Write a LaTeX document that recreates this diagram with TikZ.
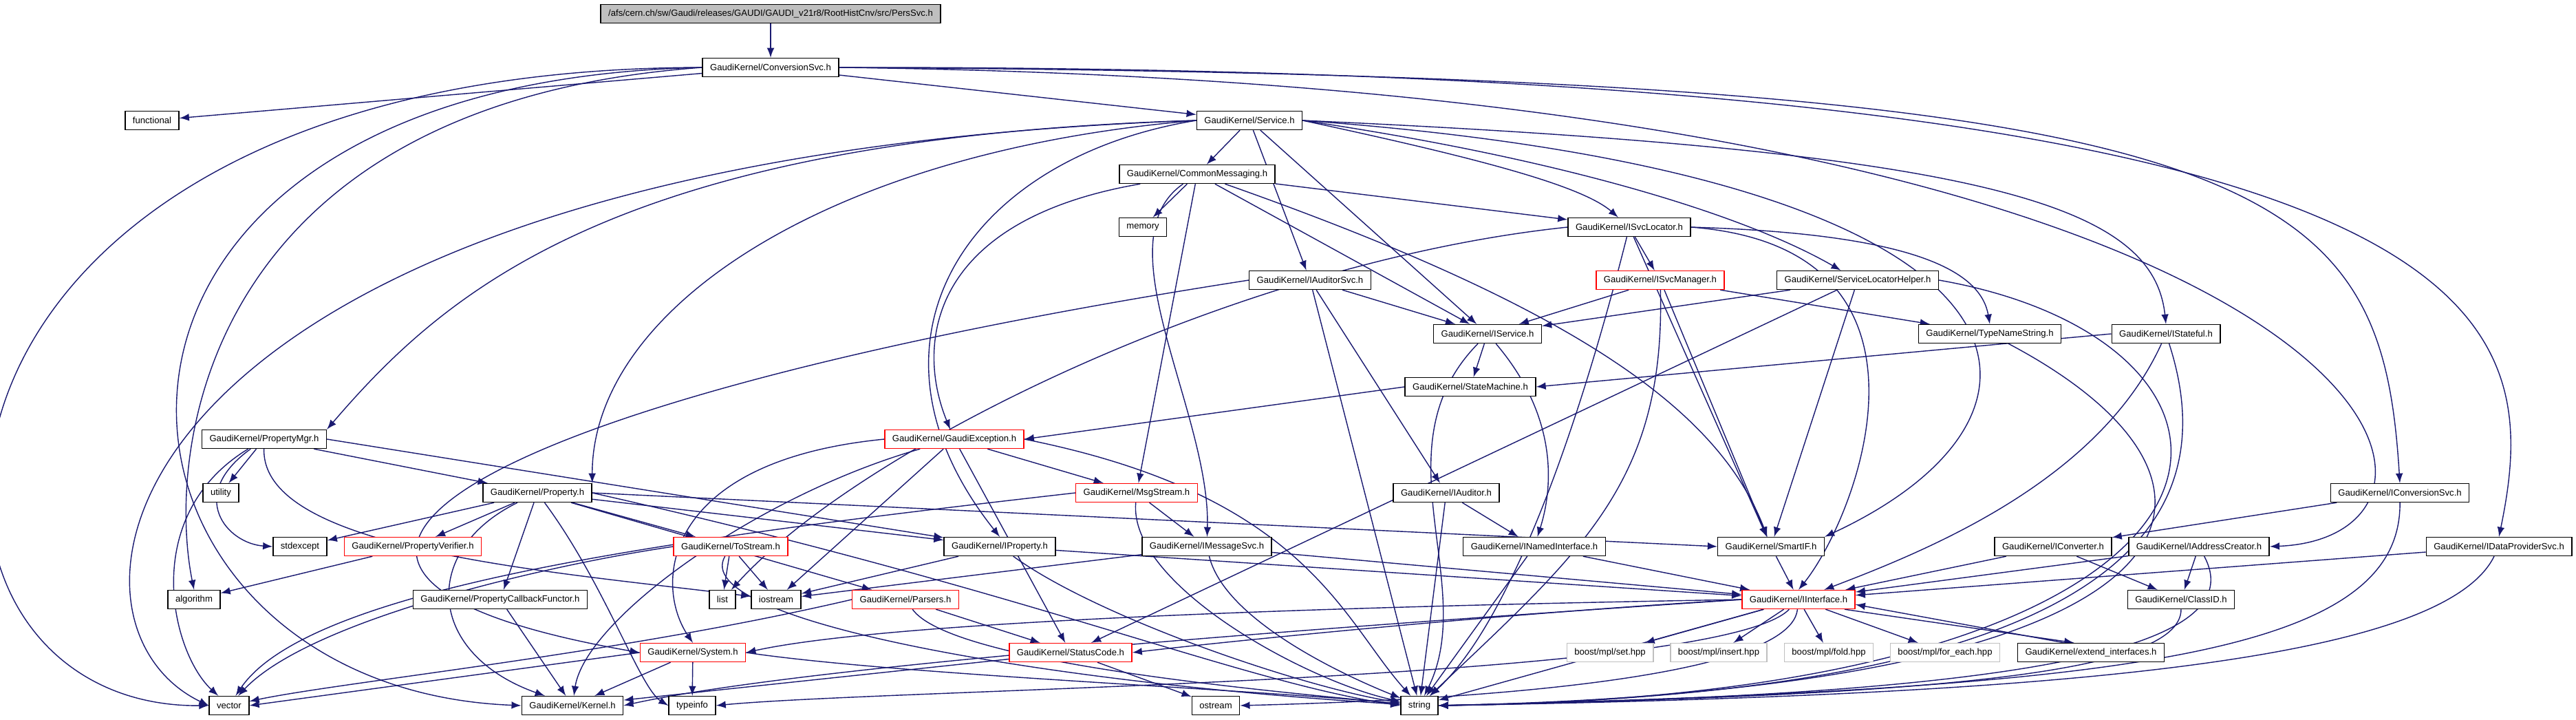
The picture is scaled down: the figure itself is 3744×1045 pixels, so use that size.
\documentclass[tikz,border=0pt]{standalone}
\usepackage{fontspec}
\setmainfont{Liberation Sans}
\usetikzlibrary{backgrounds}
\definecolor{edgeblue}{HTML}{191970}
\definecolor{rootgray}{HTML}{BFBFBF}

\begin{document}
\begin{tikzpicture}[x=0.01cm, y=-0.01cm, every node/.style={font={\fontsize{3.73pt}{4.5pt}\selectfont}}]
  \tikzstyle{hfile}=[draw,fill=white,minimum height=0.27cm,inner xsep=0.11cm,inner ysep=0pt]
  \tikzstyle{redfile}=[hfile,draw=red]
  \tikzstyle{extfile}=[hfile,draw=rootgray]
  \tikzstyle{dep}=[->,>=latex,draw=edgeblue]
  \useasboundingbox (0,0) rectangle (3744,1045);
  % headers, row by row
  \node[hfile,fill=rootgray] (root) at (1120,20) {/afs/cern.ch/sw/Gaudi/releases/GAUDI/GAUDI\_v21r8/RootHistCnv/src/PersSvc.h};
  \node[hfile] (convsvc) at (1120,98) {GaudiKernel/ConversionSvc.h};
  \node[hfile] (functional) at (221,175) {functional};
  \node[hfile] (service) at (1816,175) {GaudiKernel/Service.h};
  \node[hfile] (commonmsg) at (1740,253) {GaudiKernel/CommonMessaging.h};
  \node[hfile] (memory) at (1661,330) {memory};
  \node[hfile] (isvclocator) at (2368,330) {GaudiKernel/ISvcLocator.h};
  \node[hfile] (iauditorsvc) at (1904,407) {GaudiKernel/IAuditorSvc.h};
  \node[redfile] (isvcmanager) at (2413,407) {GaudiKernel/ISvcManager.h};
  \node[hfile] (svclochelper) at (2700,407) {GaudiKernel/ServiceLocatorHelper.h};
  \node[hfile] (iservice) at (2162,485) {GaudiKernel/IService.h};
  \node[hfile] (typename) at (2892,485) {GaudiKernel/TypeNameString.h};
  \node[hfile] (istateful) at (3148,485) {GaudiKernel/IStateful.h};
  \node[hfile] (statemachine) at (2137,562) {GaudiKernel/StateMachine.h};
  \node[hfile] (propmgr) at (384,638) {GaudiKernel/PropertyMgr.h};
  \node[redfile] (gaudiexc) at (1387,638) {GaudiKernel/GaudiException.h};
  \node[hfile] (utility) at (321,716) {utility};
  \node[hfile] (property) at (781,716) {GaudiKernel/Property.h};
  \node[redfile] (msgstream) at (1652,716) {GaudiKernel/MsgStream.h};
  \node[hfile] (iauditor) at (2102,716) {GaudiKernel/IAuditor.h};
  \node[hfile] (iconvsvc) at (3488,716) {GaudiKernel/IConversionSvc.h};
  \node[hfile] (stdexcept) at (436,794) {stdexcept};
  \node[redfile] (propverifier) at (600,794) {GaudiKernel/PropertyVerifier.h};
  \node[redfile] (tostream) at (1062,794) {GaudiKernel/ToStream.h};
  \node[hfile] (iproperty) at (1453,794) {GaudiKernel/IProperty.h};
  \node[hfile] (imsgsvc) at (1754,794) {GaudiKernel/IMessageSvc.h};
  \node[hfile] (inamed) at (2230,794) {GaudiKernel/INamedInterface.h};
  \node[hfile] (smartif) at (2574,794) {GaudiKernel/SmartIF.h};
  \node[hfile] (iconverter) at (2984,794) {GaudiKernel/IConverter.h};
  \node[hfile] (iaddrcreator) at (3196,794) {GaudiKernel/IAddressCreator.h};
  \node[hfile] (idataprov) at (3632,794) {GaudiKernel/IDataProviderSvc.h};
  \node[hfile] (algorithm) at (282,871) {algorithm};
  \node[hfile] (propcallback) at (727,871) {GaudiKernel/PropertyCallbackFunctor.h};
  \node[hfile] (list) at (1050,871) {list};
  \node[hfile] (iostream) at (1128,871) {iostream};
  \node[redfile] (parsers) at (1316,871) {GaudiKernel/Parsers.h};
  \node[redfile] (iinterface) at (2614,871) {GaudiKernel/IInterface.h};
  \node[hfile] (classid) at (3170,871) {GaudiKernel/ClassID.h};
  \node[redfile] (system) at (1007,948) {GaudiKernel/System.h};
  \node[redfile] (statuscode) at (1556,948) {GaudiKernel/StatusCode.h};
  \node[extfile] (mplset) at (2340,948) {boost/mpl/set.hpp};
  \node[extfile] (mplinsert) at (2498,948) {boost/mpl/insert.hpp};
  \node[extfile] (mplfold) at (2658,948) {boost/mpl/fold.hpp};
  \node[extfile] (mplforeach) at (2827,948) {boost/mpl/for\_each.hpp};
  \node[hfile] (extend) at (3039,948) {GaudiKernel/extend\_interfaces.h};
  \node[hfile] (vector) at (333,1025) {vector};
  \node[hfile] (kernel) at (832,1025) {GaudiKernel/Kernel.h};
  \node[hfile] (typeinfo) at (1006,1025) {typeinfo};
  \node[hfile] (ostream) at (1767,1025) {ostream};
  \node[hfile] (string) at (2063,1025) {string};

  \begin{scope}[on background layer]
  % PersSvc.h, ConversionSvc.h
  \draw[dep] (root) -- (convsvc);
  \draw[dep] (convsvc) -- (functional); \draw[dep] (convsvc) -- (service);
  \draw[dep] (convsvc.west) .. controls (-200,100) and (-200,1030) .. (vector.west);
  \draw[dep] (convsvc.west) .. controls (300,150) and (240,650) .. (algorithm.north);
  \draw[dep] (convsvc.west) .. controls (0,120) and (100,1000) .. (kernel.west);
  \draw[dep] (convsvc.east) .. controls (3300,110) and (3460,250) .. (iconvsvc.north);
  \draw[dep] (convsvc.east) .. controls (3500,125) and (3660,780) .. (iaddrcreator.east);
  \draw[dep] (convsvc.east) .. controls (3650,95) and (3700,450) .. (idataprov.north);
  % Service.h
  \draw[dep] (service) -- (commonmsg); \draw[dep] (service) -- (iauditorsvc);
  \draw[dep] (service) -- (iservice);
  \draw[dep] (service.east) .. controls (2150,230) and (2300,270) .. (isvclocator);
  \draw[dep] (service.east) .. controls (2300,235) and (2550,320) .. (svclochelper);
  \draw[dep] (service.east) .. controls (2900,220) and (3130,300) .. (istateful.north);
  \draw[dep] (service.east) .. controls (3000,255) and (3040,600) .. (smartif.north east);
  \draw[dep] (service.west) .. controls (900,200) and (650,420) .. (propmgr.north east);
  \draw[dep] (service.west) .. controls (1200,220) and (860,450) .. (property.north east);
  \draw[dep] (service.west) .. controls (1400,230) and (1230,500) .. (iproperty.north);
  \draw[dep] (service.west) .. controls (150,230) and (40,900) .. (vector.west);
  % CommonMessaging.h
  \draw[dep] (commonmsg) -- (memory); \draw[dep] (commonmsg) -- (isvclocator);
  \draw[dep] (commonmsg) -- (iservice); \draw[dep] (commonmsg) -- (msgstream);
  \draw[dep] (commonmsg) .. controls (1600,350) and (1760,600) .. (imsgsvc);
  \draw[dep] (commonmsg) .. controls (1350,320) and (1330,500) .. (gaudiexc);
  \draw[dep] (commonmsg) .. controls (2300,450) and (2500,600) .. (smartif);
  % ISvcLocator.h
  \draw[dep] (isvclocator) -- (isvcmanager); \draw[dep] (isvclocator) -- (smartif);
  \draw[dep] (isvclocator.east) .. controls (2800,340) and (2880,400) .. (typename.north);
  \draw[dep] (isvclocator.east) .. controls (2850,360) and (2700,750) .. (iinterface.north);
  \draw[dep] (isvclocator) .. controls (2300,600) and (2200,900) .. (string);
  \draw[dep] (isvclocator.west) .. controls (1800,380) and (1250,650) .. (list);
  % ISvcManager.h
  \draw[dep] (isvcmanager) -- (iservice); \draw[dep] (isvcmanager) -- (typename);
  \draw[dep] (isvcmanager) -- (smartif);
  \draw[dep] (isvcmanager) .. controls (2420,700) and (2300,800) .. (string);
  % ServiceLocatorHelper.h
  \draw[dep] (svclochelper) -- (iservice); \draw[dep] (svclochelper) -- (statuscode);
  \draw[dep] (svclochelper) -- (smartif);
  \draw[dep] (svclochelper.east) .. controls (3350,500) and (3350,1010) .. (string.east);
  % IAuditorSvc.h
  \draw[dep] (iauditorsvc) -- (iservice); \draw[dep] (iauditorsvc) -- (iauditor);
  \draw[dep] (iauditorsvc) -- (string);
  \draw[dep] (iauditorsvc.west) .. controls (700,580) and (250,830) .. (system.west);
  % IService.h, IStateful.h, StateMachine.h
  \draw[dep] (iservice) -- (statemachine);
  \draw[dep] (iservice) .. controls (2260,600) and (2260,700) .. (inamed);
  \draw[dep] (iservice) .. controls (2000,650) and (2150,850) .. (string);
  \draw[dep] (istateful.west) -- (statemachine.east);
  \draw[dep] (istateful) .. controls (3050,700) and (2800,800) .. (iinterface);
  \draw[dep] (istateful) .. controls (3250,800) and (3000,1010) .. (string.east);
  \draw[dep] (statemachine.west) -- (gaudiexc.east);
  % PropertyMgr.h
  \draw[dep] (propmgr) -- (utility); \draw[dep] (propmgr) -- (property);
  \draw[dep] (propmgr.east) -- (iproperty);
  \draw[dep] (propmgr) .. controls (270,720) and (330,790) .. (stdexcept.west);
  \draw[dep] (propmgr) .. controls (200,750) and (250,950) .. (vector);
  \draw[dep] (propmgr) .. controls (380,800) and (800,830) .. (iostream);
  % GaudiException.h
  \draw[dep] (gaudiexc) -- (msgstream); \draw[dep] (gaudiexc) -- (statuscode);
  \draw[dep] (gaudiexc) -- (iostream);
  \draw[dep] (gaudiexc.west) .. controls (960,670) and (950,850) .. (system.north);
  \draw[dep] (gaudiexc) .. controls (1100,720) and (850,900) .. (kernel);
  \draw[dep] (gaudiexc.east) .. controls (1900,720) and (1950,900) .. (string);
  % Property.h
  \draw[dep] (property) -- (stdexcept); \draw[dep] (property) -- (propverifier);
  \draw[dep] (property) -- (propcallback); \draw[dep] (property) -- (tostream);
  \draw[dep] (property) -- (iproperty); \draw[dep] (property) -- (parsers);
  \draw[dep] (property.east) -- (smartif.west);
  \draw[dep] (property) .. controls (610,800) and (620,950) .. (kernel);
  \draw[dep] (property) .. controls (880,850) and (930,1000) .. (typeinfo.west);
  \draw[dep] (property.east) .. controls (1500,860) and (1800,990) .. (string.west);
  % MsgStream.h, ToStream.h
  \draw[dep] (msgstream) -- (imsgsvc);
  \draw[dep] (msgstream.west) .. controls (1000,780) and (450,850) .. (vector);
  \draw[dep] (msgstream) .. controls (1640,850) and (1900,990) .. (string);
  \draw[dep] (tostream) -- (list); \draw[dep] (tostream) -- (iostream);
  \draw[dep] (tostream.west) .. controls (800,820) and (450,900) .. (vector);
  \draw[dep] (tostream) .. controls (1000,900) and (1500,990) .. (string);
  % IProperty.h, IMessageSvc.h, IAuditor.h, INamedInterface.h, SmartIF.h
  \draw[dep] (iproperty) -- (iostream); \draw[dep] (iproperty) -- (iinterface);
  \draw[dep] (iproperty) .. controls (1600,900) and (1900,1000) .. (string);
  \draw[dep] (imsgsvc) -- (iostream); \draw[dep] (imsgsvc) -- (iinterface);
  \draw[dep] (imsgsvc) .. controls (1780,900) and (1950,980) .. (string);
  \draw[dep] (iauditor) -- (inamed); \draw[dep] (iauditor) -- (string);
  \draw[dep] (inamed) -- (iinterface); \draw[dep] (inamed) -- (string);
  \draw[dep] (smartif) -- (iinterface);
  % IConversionSvc.h, IConverter.h, IAddressCreator.h, IDataProviderSvc.h, ClassID.h
  \draw[dep] (iconvsvc) -- (iconverter);
  \draw[dep] (iconvsvc) .. controls (3490,950) and (3100,1000) .. (string.east);
  \draw[dep] (iconverter) -- (classid); \draw[dep] (iconverter) -- (iinterface);
  \draw[dep] (iaddrcreator) -- (classid); \draw[dep] (iaddrcreator) -- (iinterface);
  \draw[dep] (iaddrcreator) .. controls (3280,950) and (2900,1010) .. (string.east);
  \draw[dep] (idataprov) -- (iinterface);
  \draw[dep] (idataprov) .. controls (3550,960) and (3000,1010) .. (string.east);
  \draw[dep] (classid) .. controls (3170,980) and (2800,1010) .. (string.east);
  \draw[dep] (typename) .. controls (3300,700) and (3250,1000) .. (string.east);
  % IInterface.h
  \draw[dep] (iinterface) -- (mplset); \draw[dep] (iinterface) -- (mplinsert);
  \draw[dep] (iinterface) -- (mplfold); \draw[dep] (iinterface) -- (mplforeach);
  \draw[dep] (iinterface.-12) -- (extend.150); \draw[dep] (extend.160) -- (iinterface.-5);
  \draw[dep] (iinterface.west) .. controls (2200,890) and (1800,930) .. (statuscode.east);
  \draw[dep] (iinterface.west) .. controls (2000,880) and (1300,900) .. (system.east);
  \draw[dep] (iinterface.west) .. controls (2100,900) and (1200,960) .. (kernel.east);
  \draw[dep] (iinterface) .. controls (2500,990) and (1300,1000) .. (typeinfo.east);
  \draw[dep] (iinterface) .. controls (2600,1000) and (2000,1020) .. (ostream.east);
  \draw[dep] (iinterface) -- (string);
  % System.h, StatusCode.h, Parsers.h, PropertyVerifier.h, PropertyCallbackFunctor.h
  \draw[dep] (system) -- (typeinfo); \draw[dep] (system) -- (kernel);
  \draw[dep] (system.west) -- (vector.east);
  \draw[dep] (system.east) .. controls (1300,980) and (1800,1000) .. (string);
  \draw[dep] (statuscode) -- (ostream); \draw[dep] (statuscode) -- (kernel);
  \draw[dep] (parsers) -- (statuscode);
  \draw[dep] (parsers.west) .. controls (900,950) and (500,990) .. (vector);
  \draw[dep] (parsers) .. controls (1380,960) and (1800,1000) .. (string);
  \draw[dep] (propverifier) -- (algorithm);
  \draw[dep] (propcallback) -- (kernel);
  \end{scope}
\end{tikzpicture}
\end{document}
